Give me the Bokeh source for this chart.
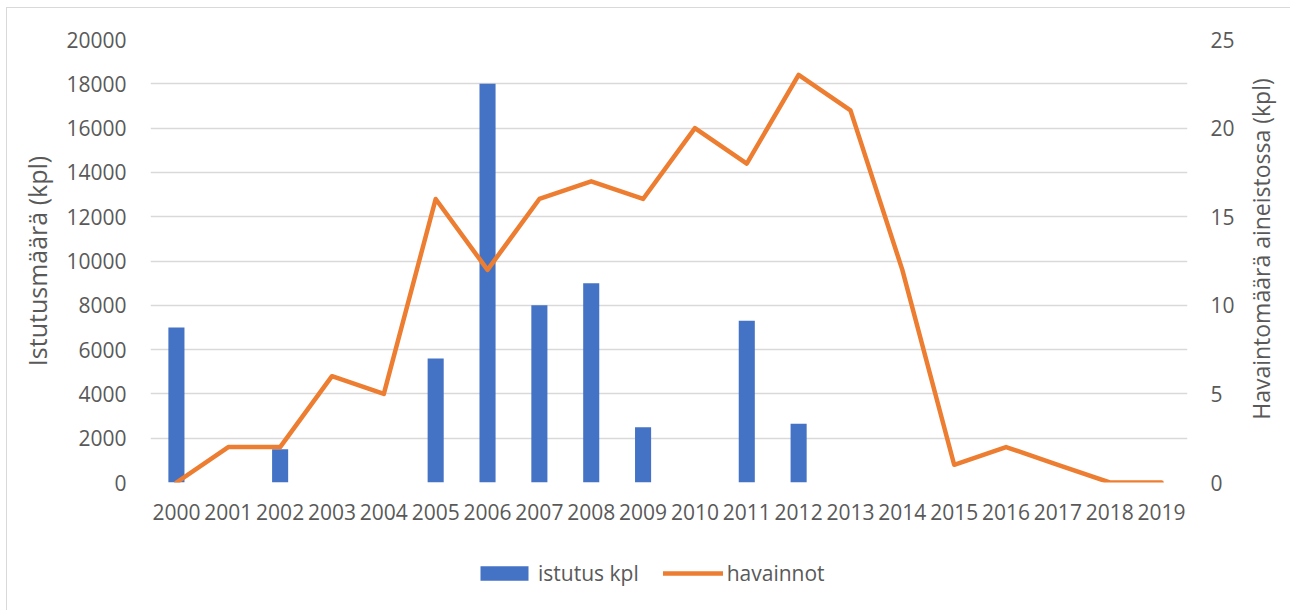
from bokeh.plotting import figure
from bokeh.layouts import column, row
from bokeh.models import (FactorRange, Range1d, LinearAxis, FixedTicker, Legend, LegendItem,
                          ColumnDataSource)
from bokeh.embed import file_html
from bokeh.resources import INLINE

years = [str(y) for y in range(2000, 2020)]
istutus = [7000, 0, 1500, 0, 0, 5600, 18000, 8000, 9000, 2500,
           0, 7300, 2650, 0, 0, 0, 0, 0, 0, 0]
havainnot = [0, 2, 2, 6, 5, 16, 12, 16, 17, 16,
             20, 18, 23, 21, 12, 1, 2, 1, 0, 0]
left_ticks = [0, 2000, 4000, 6000, 8000, 10000, 12000, 14000, 16000, 18000, 20000]
right_ticks = [0, 5, 10, 15, 20, 25]
left_title = "Istutusmäärä (kpl)"
right_title = "Havaintomäärä aineistossa  (kpl)"
legend_labels = ["istutus kpl", "havainnot"]

FONT = "Open Sans"
TXT = "#595959"
BLUE = "#4472C4"
ORANGE = "#ED7D31"
GRID = "#D9D9D9"

src = ColumnDataSource(dict(year=years, istutus=istutus, havainnot=havainnot))

# ---- main chart -------------------------------------------------------------
p = figure(width=1240, height=530, x_range=FactorRange(*years, range_padding=0),
           y_range=Range1d(0, 20000), output_backend="svg", toolbar_location=None,
           min_border_left=150, min_border_right=53, min_border_top=39, min_border_bottom=48)
p.extra_y_ranges = {"right": Range1d(0, 25)}
p.outline_line_color = None
p.background_fill_color = "white"
p.border_fill_color = None

bars = p.vbar(x="year", top="istutus", width=0.31, source=src, fill_color=BLUE, line_color=None)
line = p.line(x="year", y="havainnot", source=src, y_range_name="right", line_color=ORANGE,
              line_width=4.5, line_join="round", line_cap="round")

p.xgrid.grid_line_color = None
p.ygrid.grid_line_color = GRID
p.ygrid.grid_line_width = 1.3
p.yaxis.ticker = FixedTicker(ticks=left_ticks)

ax_r = LinearAxis(y_range_name="right", ticker=FixedTicker(ticks=right_ticks))
p.add_layout(ax_r, "right")
p.yaxis[0].axis_label = left_title


def style_axis(ax):
    ax.axis_line_color = None
    ax.major_tick_line_color = None
    ax.minor_tick_line_color = None
    ax.major_tick_out = 0
    ax.major_tick_in = 0
    ax.major_label_text_font = FONT
    ax.major_label_text_font_size = "21px"
    ax.major_label_text_color = TXT
    ax.axis_label_text_font = FONT
    ax.axis_label_text_font_size = "25px"
    ax.axis_label_text_font_style = "normal"
    ax.axis_label_text_color = TXT


for ax in [p.xaxis[0], p.yaxis[0], ax_r]:
    style_axis(ax)

p.xaxis[0].major_label_standoff = 21
p.yaxis[0].major_label_standoff = 24
p.yaxis[0].axis_label_standoff = 9
ax_r.major_label_standoff = 23

# ---- right-hand axis title (reads bottom to top, like the reference) -------
pr = figure(width=50, height=530, x_range=Range1d(0, 1), y_range=Range1d(0, 1),
            output_backend="svg", toolbar_location=None, x_axis_location=None,
            min_border_left=36, min_border_right=0, min_border_top=39, min_border_bottom=48)
pr.outline_line_color = None
pr.border_fill_color = None
pr.background_fill_color = None
pr.grid.visible = False
pr.yaxis.ticker = FixedTicker(ticks=[])
style_axis(pr.yaxis[0])
# leading no-break spaces nudge the centred title up a little, as in the reference
pr.yaxis[0].axis_label = "\u00a0" * 5 + right_title
pr.yaxis[0].axis_label_text_font_size = "23px"
pr.yaxis[0].major_label_standoff = 0
pr.yaxis[0].axis_label_standoff = 0

# ---- legend strip ----------------------------------------------------------
pl = figure(width=1290, height=80, x_range=Range1d(0, 1), y_range=Range1d(0, 1),
            output_backend="svg", toolbar_location=None, x_axis_location=None,
            y_axis_location=None, min_border=0)
pl.outline_line_color = None
pl.border_fill_color = None
pl.background_fill_color = None
pl.grid.visible = False
nan = float("nan")
lb = pl.vbar(x=[nan], top=[nan], width=0.31, fill_color=BLUE, line_color=None)
ll = pl.line(x=[nan, nan], y=[nan, nan], line_color=ORANGE, line_width=4.5,
             line_join="round", line_cap="round")
legend = Legend(items=[LegendItem(label=legend_labels[0], renderers=[lb]),
                       LegendItem(label=legend_labels[1], renderers=[ll])],
                orientation="horizontal", location=(474, 23),
                glyph_width=60, glyph_height=18, label_standoff=4, spacing=24,
                padding=0, margin=0, border_line_color=None, background_fill_alpha=0,
                label_text_font=FONT, label_text_font_size="21px", label_text_color=TXT)
pl.add_layout(legend, "center")

layout = column(row(p, pr), pl)
layout.styles = {
    "background": ("linear-gradient(#D9D9D9,#D9D9D9) 6px 7px / 1284px 1px no-repeat, "
                   "linear-gradient(#D9D9D9,#D9D9D9) 6px 7px / 1px 603px no-repeat, white")
}

open("out.html", "w").write(file_html(layout, INLINE))
